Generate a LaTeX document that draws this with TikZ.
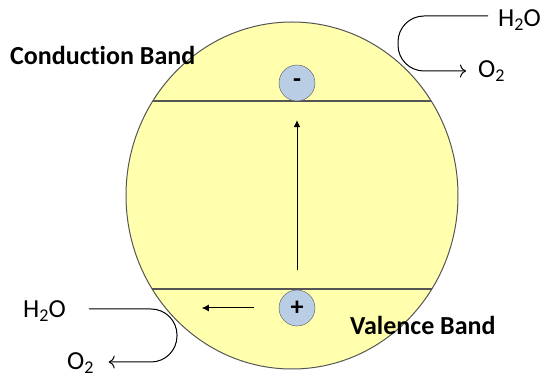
\documentclass[tikz,border=0pt]{standalone}
\usepackage{fontspec}
\setmainfont{Carlito}[Ligatures=CommonOff]
\usetikzlibrary{arrows.meta, positioning}

\definecolor{bandyellow}{HTML}{FFFFAE}
\definecolor{carrierblue}{HTML}{B9CDE5}
\definecolor{edgegray}{HTML}{555555}

\newcommand{\water}{H\raisebox{-0.3ex}{\fontsize{18}{18}\selectfont 2}O}
\newcommand{\oxygen}{O\raisebox{-0.3ex}{\fontsize{18}{18}\selectfont 2}}

\begin{document}
\begin{tikzpicture}[
    x=1pt, y=-1pt,
    band/.style={font=\fontsize{26}{30}\selectfont\bfseries, anchor=base west, inner sep=0pt},
    species/.style={font=\fontsize{26}{30}\selectfont, anchor=base west, inner sep=0pt},
    carrier/.style={circle, draw=edgegray, fill=carrierblue, minimum width=34pt, minimum height=36pt, inner sep=0pt, font=\fontsize{26}{26}\selectfont\bfseries},
    reaction/.style={black, line width=1pt, rounded corners=26pt, -{To[length=6pt, width=13pt]}},
    hop/.style={black, line width=1pt, -{Latex[length=7pt, width=7pt]}}
]
\useasboundingbox (0,0) rectangle (542,379);

% Particle
\fill[bandyellow] (292,195.5) ellipse [x radius=166, y radius=173.5];
\begin{scope}
  \clip (292,195.5) ellipse [x radius=166, y radius=173.5];
  \draw[edgegray, line width=1.2pt] (100,101) -- (480,101);
  \draw[edgegray, line width=1.2pt] (100,289) -- (480,289);
\end{scope}
\draw[edgegray, line width=1pt] (292,195.5) ellipse [x radius=166, y radius=173.5];

% Nodes
\node[band] (cband) at (10,65) {Conduction Band};
\node[band] (vband) at (350,335) {Valence Band};
\node[carrier] (elec) at (297,83) {-};
\node[carrier] (hole) at (297,308) {+};
\node[species] (waterTop) at (498,27) {\water};
\node[species] (oxTop) at (478,78) {\oxygen};
\node[species] (waterBot) at (23,318) {\water};
\node[species] (oxBot) at (67,370) {\oxygen};

% Edges
\draw[hop] ([yshift=20pt]hole.north) -- ([yshift=-19pt]elec.south);
\draw[hop] ([xshift=-25pt]hole.west) -- ([xshift=-77pt]hole.west);
\draw[reaction] ([xshift=-10pt]waterTop.west |- 0,16) -- (398,16) -- (398,71) -- ([xshift=-12pt]oxTop.west |- 0,71);
\draw[reaction] ([xshift=23pt]waterBot.east |- 0,309) -- (177,309) -- (177,362) -- ([xshift=15pt]oxBot.east |- 0,362);

\end{tikzpicture}
\end{document}
